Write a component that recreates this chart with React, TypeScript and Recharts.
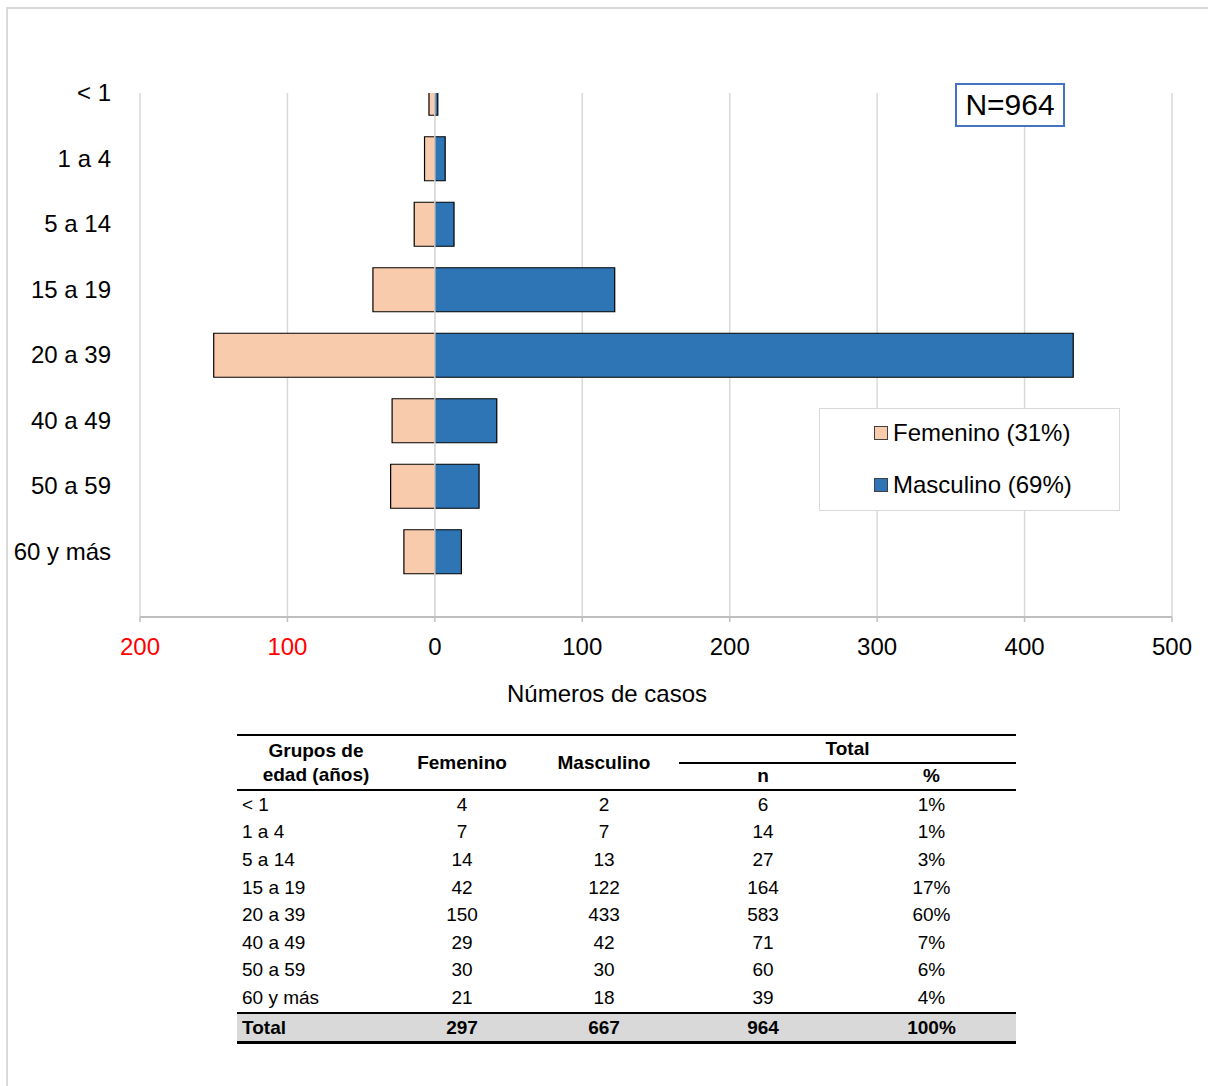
import React from "react";
import {
  BarChart,
  Bar,
  XAxis,
  YAxis,
  CartesianGrid,
  ReferenceLine,
  Label,
} from "recharts";

const grupos = ["< 1", "1 a 4", "5 a 14", "15 a 19", "20 a 39", "40 a 49", "50 a 59", "60 y más"];
const femenino = [4, 7, 14, 42, 150, 29, 30, 21];
const masculino = [2, 7, 13, 122, 433, 42, 30, 18];
const totalN = [6, 14, 27, 164, 583, 71, 60, 39];
const totalPct = ["1%", "1%", "3%", "17%", "60%", "7%", "6%", "4%"];
const totalRow = ["Total", "297", "667", "964", "100%"];
const xTicks = [-200, -100, 0, 100, 200, 300, 400, 500];
const leyenda = ["Femenino (31%)", "Masculino (69%)"];

const FEM = "#F8CBAD";
const MASC = "#2E75B6";
const FONT = "'Liberation Sans', Arial, sans-serif";
const PLOT_TOP = 93;

const data = grupos.map((g, i) => ({
  grupo: g,
  femenino: -femenino[i],
  masculino: masculino[i],
}));

// bars are cut at the top of the plot area, like the first group in the original
const ClippedBar = (props: any) => {
  const { x, y, width, height, fill } = props;
  const x0 = Math.min(x, x + width);
  const x1 = Math.max(x, x + width);
  const yTop = Math.min(y, y + height);
  const yBot = Math.max(y, y + height);
  const y0 = Math.max(yTop, PLOT_TOP);
  const clipped = yTop < PLOT_TOP;
  const d = clipped
    ? `M${x0},${y0} L${x0},${yBot} L${x1},${yBot} L${x1},${y0}`
    : `M${x0},${y0} L${x0},${yBot} L${x1},${yBot} L${x1},${y0} Z`;
  return (
    <g>
      <rect x={x0} y={y0} width={x1 - x0} height={yBot - y0} fill={fill} />
      <path d={d} fill="none" stroke="#000" strokeWidth={1.2} />
    </g>
  );
};

const XTick = (props: any) => {
  const { x, y, payload } = props;
  const v = payload.value;
  return (
    <text
      x={x}
      y={y}
      dy="0.71em"
      textAnchor="middle"
      fontSize={24}
      fontFamily={FONT}
      fill={v < 0 ? "#FF0000" : "#000"}
    >
      {Math.abs(v)}
    </text>
  );
};

const YTick = (props: any) => {
  const { x, y, payload } = props;
  return (
    <text x={x} y={y} dy="0.35em" textAnchor="end" fontSize={24} fontFamily={FONT} fill="#000">
      {payload.value}
    </text>
  );
};

const LegendBox = () => {
  const colors = [FEM, MASC];
  return (
    <div
      style={{
        position: "absolute",
        left: 819,
        top: 408,
        width: 301,
        height: 103,
        boxSizing: "border-box",
        border: "1.5px solid #d9d9d9",
        background: "#fff",
      }}
    >
      {leyenda.map((label, i) => (
        <div
          key={label}
          style={{ display: "flex", alignItems: "center", height: 52, paddingLeft: 54, marginTop: i === 0 ? -2 : 0 }}
        >
          <span
            style={{
              display: "inline-block",
              width: 12,
              height: 12,
              background: colors[i],
              border: "1px solid #404040",
              marginRight: 5,
            }}
          />
          <span style={{ fontSize: 24, fontFamily: FONT, color: "#000" }}>{label}</span>
        </div>
      ))}
    </div>
  );
};

const cell: React.CSSProperties = { padding: 0, textAlign: "center", height: 27.6, lineHeight: "22px" };
const head: React.CSSProperties = { padding: 0, textAlign: "center", height: 25.5, lineHeight: "22px" };

export default function App() {
  return (
    <div
      style={{
        position: "absolute",
        left: 0,
        top: 0,
        width: 1208,
        height: 1086,
        overflow: "hidden",
        background: "#fff",
        fontFamily: FONT,
      }}
    >
      <div
        style={{
          position: "absolute",
          left: 6,
          top: 7,
          width: 1300,
          height: 1200,
          borderLeft: "2px solid #d9d9d9",
          borderTop: "2px solid #d9d9d9",
        }}
      />
      <div style={{ position: "absolute", left: 0, top: 0 }}>
        <BarChart
          width={1208}
          height={720}
          data={data}
          layout="vertical"
          stackOffset="sign"
          margin={{ top: PLOT_TOP, right: 36, bottom: 23, left: 0 }}
        >
          <CartesianGrid horizontal={false} stroke="#d9d9d9" strokeWidth={1.5} />
          <XAxis
            type="number"
            domain={[-200, 500]}
            ticks={xTicks}
            height={80}
            tickSize={5}
            tickMargin={16}
            stroke="#bfbfbf"
            axisLine={{ stroke: "#bfbfbf", strokeWidth: 2 }}
            tickLine={{ stroke: "#bfbfbf", strokeWidth: 1.5 }}
            tick={<XTick />}
          >
            <Label
              value="Números de casos"
              position="insideTop"
              offset={68}
              dx={-49}
              fontSize={24}
              fontFamily={FONT}
              fill="#000"
            />
          </XAxis>
          <YAxis
            type="category"
            dataKey="grupo"
            width={140}
            padding={{ top: -32.75, bottom: 32.75 }}
            axisLine={false}
            tickLine={false}
            tickSize={0}
            tickMargin={29}
            interval={0}
            tick={<YTick />}
          />
          <Bar
            dataKey="femenino"
            name="Femenino (31%)"
            stackId="a"
            fill={FEM}
            barSize={44}
            shape={<ClippedBar />}
            isAnimationActive={false}
          />
          <Bar
            dataKey="masculino"
            name="Masculino (69%)"
            stackId="a"
            fill={MASC}
            barSize={44}
            shape={<ClippedBar />}
            isAnimationActive={false}
          />
          <ReferenceLine x={0} stroke="#d9d9d9" strokeWidth={1.5} />
        </BarChart>
      </div>

      <LegendBox />

      <div
        style={{
          position: "absolute",
          left: 955,
          top: 83,
          width: 110,
          height: 44,
          boxSizing: "border-box",
          border: "2px solid #4472C4",
          background: "#fff",
          fontSize: 30,
          lineHeight: "40px",
          textAlign: "center",
          color: "#000",
        }}
      >
        N=964
      </div>

      <table
        style={{
          position: "absolute",
          left: 237,
          top: 734,
          width: 779,
          borderCollapse: "collapse",
          tableLayout: "fixed",
          fontSize: 19,
          fontFamily: FONT,
          color: "#000",
        }}
      >
        <colgroup>
          <col style={{ width: 158 }} />
          <col style={{ width: 134 }} />
          <col style={{ width: 150 }} />
          <col style={{ width: 168 }} />
          <col style={{ width: 169 }} />
        </colgroup>
        <thead>
          <tr style={{ borderTop: "2.5px solid #000" }}>
            <th rowSpan={2} style={{ ...head, lineHeight: "24px" }}>
              Grupos de
              <br />
              edad (años)
            </th>
            <th rowSpan={2} style={head}>Femenino</th>
            <th rowSpan={2} style={head}>Masculino</th>
            <th colSpan={2} style={{ ...head, borderBottom: "2px solid #000" }}>Total</th>
          </tr>
          <tr style={{ borderBottom: "2.5px solid #000" }}>
            <th style={head}>n</th>
            <th style={head}>%</th>
          </tr>
        </thead>
        <tbody>
          {grupos.map((g, i) => (
            <tr key={g}>
              <td style={{ ...cell, textAlign: "left", paddingLeft: 5 }}>{g}</td>
              <td style={cell}>{femenino[i]}</td>
              <td style={cell}>{masculino[i]}</td>
              <td style={cell}>{totalN[i]}</td>
              <td style={cell}>{totalPct[i]}</td>
            </tr>
          ))}
          <tr
            style={{
              background: "#d9d9d9",
              fontWeight: "bold",
              borderTop: "2.5px solid #000",
              borderBottom: "3px solid #000",
            }}
          >
            {totalRow.map((t, i) => (
              <td key={t} style={i === 0 ? { ...cell, textAlign: "left", paddingLeft: 5 } : cell}>
                {t}
              </td>
            ))}
          </tr>
        </tbody>
      </table>
    </div>
  );
}
